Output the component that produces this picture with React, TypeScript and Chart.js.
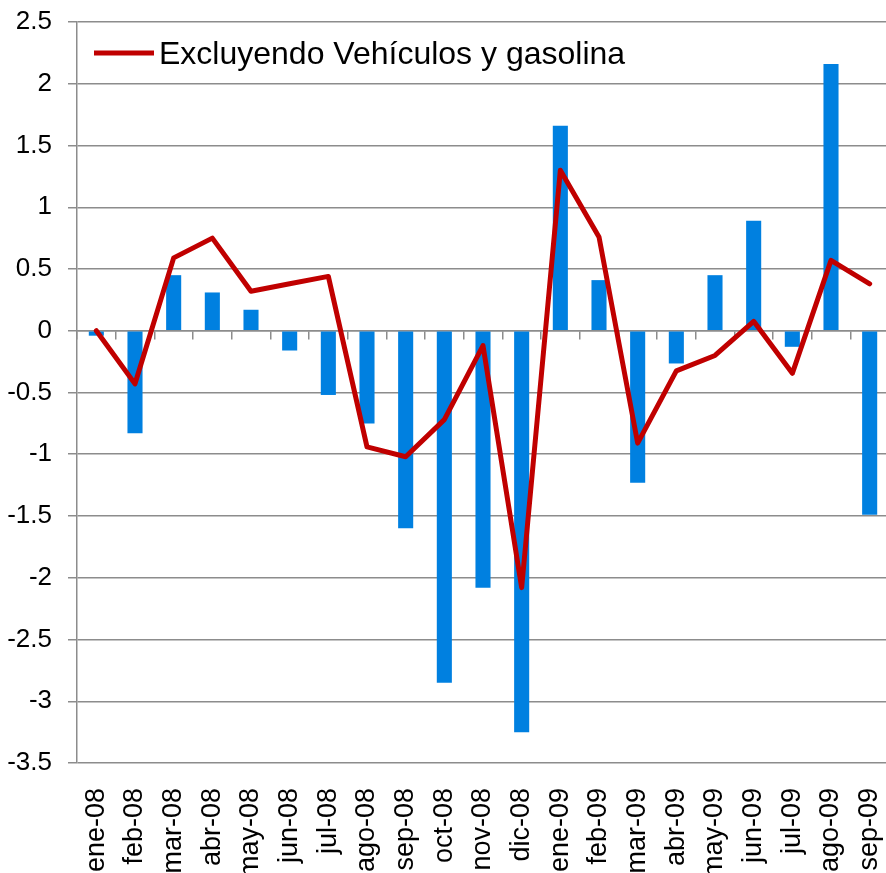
import { useEffect, useRef } from "react";
import { Chart, registerables } from "chart.js";

Chart.register(...registerables);

const categories = [
  "ene-08", "feb-08", "mar-08", "abr-08", "may-08", "jun-08", "jul-08",
  "ago-08", "sep-08", "oct-08", "nov-08", "dic-08", "ene-09", "feb-09",
  "mar-09", "abr-09", "may-09", "jun-09", "jul-09", "ago-09", "sep-09",
];

const barValues = [
  -0.04, -0.83, 0.45, 0.31, 0.17, -0.16, -0.52, -0.75, -1.6, -2.85, -2.08,
  -3.25, 1.66, 0.41, -1.23, -0.265, 0.45, 0.89, -0.13, 2.16, -1.49,
];

const lineValues = [
  0.0, -0.43, 0.59, 0.75, 0.32, 0.38, 0.44, -0.94, -1.02, -0.72, -0.12,
  -2.08, 1.3, 0.76, -0.91, -0.325, -0.2, 0.076, -0.345, 0.57, 0.38,
];

const lineLabel = "Excluyendo Vehículos y gasolina";
const barLabel = "Total";

const yMin = -3.5;
const yMax = 2.5;
const yStep = 0.5;

const FONT = '"Liberation Sans", Arial, sans-serif';
const GRID = "#8c8c8c";

const legendPlugin = {
  id: "customLegend",
  afterDatasetsDraw(chart: any) {
    const { ctx, chartArea } = chart;
    const ds = chart.data.datasets[0];
    const x0 = chartArea.left + 17;
    const y0 = chartArea.top + 31;
    ctx.save();
    ctx.strokeStyle = ds.borderColor;
    ctx.lineWidth = 5;
    ctx.lineCap = "butt";
    ctx.beginPath();
    ctx.moveTo(x0, y0);
    ctx.lineTo(x0 + 60, y0);
    ctx.stroke();
    ctx.fillStyle = "#000";
    ctx.font = `32px ${FONT}`;
    ctx.textAlign = "left";
    ctx.textBaseline = "alphabetic";
    ctx.fillText(ds.label, x0 + 65, y0 + 11);
    ctx.restore();
  },
};

export default function App() {
  const canvasRef = useRef<HTMLCanvasElement | null>(null);

  useEffect(() => {
    const canvas = canvasRef.current;
    if (!canvas) return;
    const chart = new Chart(canvas, {
      type: "bar",
      data: {
        labels: categories,
        datasets: [
          {
            type: "line",
            label: lineLabel,
            data: lineValues,
            borderColor: "#C00000",
            backgroundColor: "#C00000",
            borderWidth: 5,
            pointRadius: 0,
            tension: 0,
            fill: false,
            borderJoinStyle: "round",
            borderCapStyle: "round",
            order: 0,
            xAxisID: "x",
          } as any,
          {
            type: "bar",
            label: barLabel,
            data: barValues,
            backgroundColor: "#0080E0",
            barPercentage: 0.39,
            categoryPercentage: 1,
            order: 1,
            xAxisID: "x",
          } as any,
        ],
      },
      options: {
        responsive: false,
        animation: false,
        layout: { padding: { top: 22, left: 0, right: 0, bottom: 0 } },
        plugins: {
          legend: { display: false },
          tooltip: { enabled: false },
        },
        scales: {
          x: {
            position: "bottom",
            grid: { display: false },
            border: { display: false },
            ticks: {
              autoSkip: false,
              minRotation: 90,
              maxRotation: 90,
              padding: 17,
              color: "#000",
              font: { size: 27, family: FONT },
            },
            afterFit(s: any) {
              s.paddingLeft = 0;
              s.paddingRight = 0;
              s.height = 120;
            },
          },
          x2: {
            type: "category",
            position: { y: 0 },
            offset: true,
            grid: {
              offset: true,
              drawOnChartArea: false,
              drawTicks: true,
              tickLength: 8,
              color: GRID,
              lineWidth: 1.5,
            },
            border: { display: true, color: GRID, width: 1.5 },
            ticks: { display: false },
            afterFit(s: any) {
              s.paddingLeft = 0;
              s.paddingRight = 0;
            },
          } as any,
          y: {
            min: yMin,
            max: yMax,
            ticks: {
              stepSize: yStep,
              padding: 16,
              color: "#000",
              font: { size: 26, family: FONT },
              callback: (v: any) => String(v),
            },
            grid: { color: GRID, lineWidth: 1.5, tickLength: 9 },
            border: { display: true, color: GRID, width: 1.5 },
            afterFit(s: any) {
              s.width = 77;
              s.paddingTop = 0;
              s.paddingBottom = 0;
            },
          },
        },
      },
      plugins: [legendPlugin],
    });
    return () => chart.destroy();
  }, []);

  return (
    <div
      style={{
        position: "absolute",
        left: 0,
        top: 0,
        width: 886,
        height: 873,
        overflow: "hidden",
        background: "#fff",
      }}
    >
      <canvas
        ref={canvasRef}
        width={889}
        height={883}
        style={{ display: "block", width: 889, height: 883 }}
      />
    </div>
  );
}
